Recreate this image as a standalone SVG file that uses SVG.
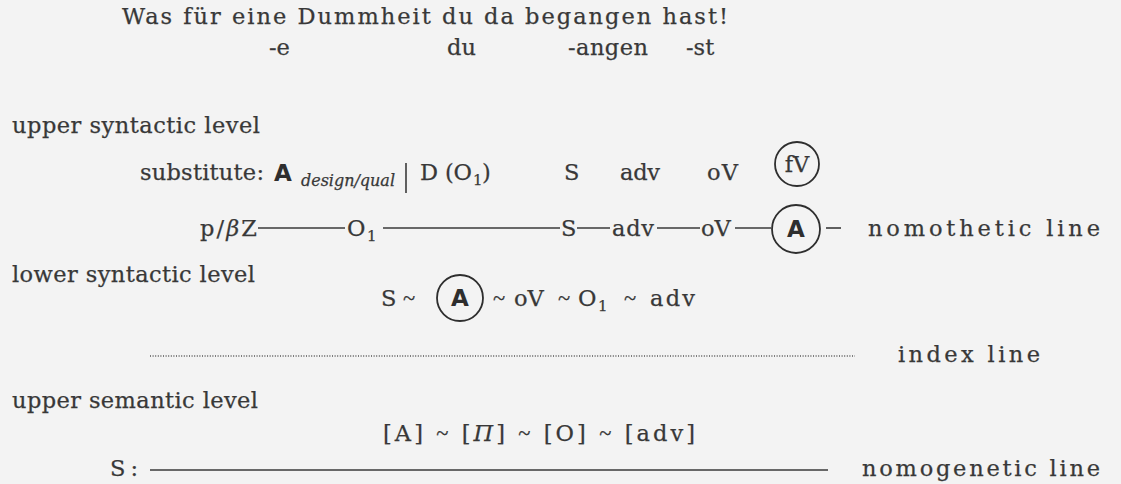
<svg xmlns="http://www.w3.org/2000/svg" width="1121" height="484" viewBox="0 0 1121 484">
<style>
text{font-family:"DejaVu Serif","Liberation Serif",serif;font-size:22.5px;fill:#383838;stroke:#383838;stroke-width:0.25}
.sub{font-size:15px}
.dq{font-size:16px;font-style:italic}
.tl{font-family:"Liberation Serif",serif}
.sym{font-family:"DejaVu Sans","Liberation Sans",sans-serif;font-weight:bold;font-size:23px;fill:#2e2e2e;stroke:none}
.it{font-style:italic}
.ln{stroke:#3a3a3a;stroke-width:1.6;fill:none}
.dot{stroke:#555;stroke-width:1.3;stroke-dasharray:1 1.6;fill:none}
.cir{stroke:#2e2e2e;stroke-width:1.8;fill:none}
</style>
<rect width="1121" height="484" fill="#f3f3f3"/>
<g id="sentence">
<text x="122" y="24" textLength="606" lengthAdjust="spacing">Was für eine Dummheit du da begangen hast!</text>
<text x="269" y="55">-e</text>
<text x="447" y="55">du</text>
<text x="568" y="55" textLength="80" lengthAdjust="spacing">-angen</text>
<text x="686" y="55">-st</text>
</g>
<g id="upper-syntactic">
<text x="12" y="133" textLength="248" lengthAdjust="spacing">upper syntactic level</text>
<text x="140" y="180" textLength="124" lengthAdjust="spacing">substitute:</text>
<text class="sym" x="274" y="181">A</text>
<text class="dq" x="301" y="186" textLength="94" lengthAdjust="spacing">design/qual</text>
<line class="ln" x1="406" y1="163" x2="406" y2="193"/>
<text x="420" y="180" textLength="52" lengthAdjust="spacing">D (O</text>
<text class="sub" x="473" y="185">1</text>
<text x="482" y="180">)</text>
<text x="564" y="180">S</text>
<text x="620" y="180" textLength="40" lengthAdjust="spacing">adv</text>
<text x="707" y="180" textLength="31" lengthAdjust="spacing">oV</text>
</g>
<g id="fV">
<circle class="cir" cx="797" cy="164" r="22"/>
<text x="797" y="172" text-anchor="middle">fV</text>
</g>
<g id="nomothetic">
<text x="200" y="236" textLength="57" lengthAdjust="spacing">p/<tspan class="it">β</tspan>Z</text>
<text x="347" y="236">O</text>
<text class="sub" x="367" y="241">1</text>
<text x="561" y="236">S</text>
<text x="612" y="236" textLength="42" lengthAdjust="spacing">adv</text>
<text x="701" y="236">oV</text>
<text x="868" y="236" textLength="232" lengthAdjust="spacing">nomothetic line</text>
</g>
<g id="A-node">
<circle class="cir" cx="796" cy="229" r="24"/>
<text class="sym" x="796" y="237" text-anchor="middle">A</text>
</g>
<g id="connectors">
<line class="ln" x1="258" y1="228" x2="345" y2="228"/>
<line class="ln" x1="383" y1="228" x2="560" y2="228"/>
<line class="ln" x1="577" y1="228" x2="610" y2="228"/>
<line class="ln" x1="657" y1="228" x2="700" y2="228"/>
<line class="ln" x1="735" y1="228" x2="771" y2="228"/>
<line class="ln" x1="826" y1="228" x2="841" y2="228"/>
<line class="dot" x1="150" y1="356" x2="855" y2="356"/>
<line class="ln" x1="150" y1="470" x2="828" y2="470"/>
</g>
<g id="lower-syntactic">
<text x="12" y="282" textLength="243" lengthAdjust="spacing">lower syntactic level</text>
<text x="381" y="306">S</text>
<text class="tl" x="403" y="306">~</text>
<circle class="cir" cx="460" cy="298" r="23"/>
<text class="sym" x="460" y="306" text-anchor="middle">A</text>
<text class="tl" x="493" y="306">~</text>
<text x="514" y="306">oV</text>
<text class="tl" x="558" y="306">~</text>
<text x="578" y="306">O</text>
<text class="sub" x="598" y="311">1</text>
<text class="tl" x="624" y="306">~</text>
<text x="650" y="306" textLength="45" lengthAdjust="spacing">adv</text>
</g>
<g id="index">
<text x="898" y="362" textLength="142" lengthAdjust="spacing">index line</text>
</g>
<g id="semantic">
<text x="12" y="408" textLength="246" lengthAdjust="spacing">upper semantic level</text>
<text x="383" y="441" textLength="312" lengthAdjust="spacing">[A] <tspan class="tl">~</tspan> [<tspan class="it">Π</tspan>] <tspan class="tl">~</tspan> [O] <tspan class="tl">~</tspan> [adv]</text>
<text x="110" y="476" textLength="28" lengthAdjust="spacing">S:</text>
<text x="862" y="476" textLength="238" lengthAdjust="spacing">nomogenetic line</text>
</g>
</svg>
